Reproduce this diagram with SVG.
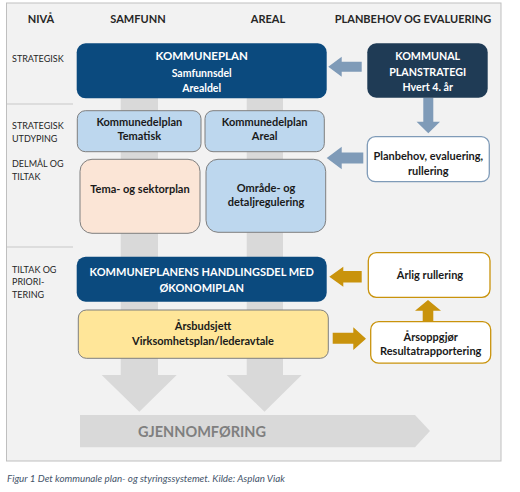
<svg xmlns="http://www.w3.org/2000/svg" width="520" height="492" viewBox="0 0 520 492">
<defs>
<style>
text{font-family:Lato,"Open Sans","Noto Sans",sans-serif;text-anchor:middle;dominant-baseline:central}
.hdr{font-size:11px;font-weight:700;fill:#262626}
.lvl{font-size:9px;fill:#262626;text-anchor:start}
.w{fill:#ffffff;font-weight:700}
.k{fill:#1a1a1a;font-weight:700;font-size:11px}
.dark{fill:#0b4a7e}
.navy{fill:#1f3b55}
.lb{fill:#bdd7ee;stroke:#7f7f7f;stroke-width:1}
.peach{fill:#fbe5d6;stroke:#7f7f7f;stroke-width:1}
.yel{fill:#ffe699;stroke:#7f7f7f;stroke-width:1}
.wb{fill:#ffffff;stroke:#7f9bb8;stroke-width:1.3}
.wg{fill:#ffffff;stroke:#c9930c;stroke-width:1.3}
.ab{fill:#7f9bb8}
.ag{fill:#c9930c}
.gray{fill:#d9d9d9}
.sep{stroke:#c8c8c8;stroke-width:1.2}
</style>
</defs>
<rect x="0" y="0" width="520" height="492" fill="#ffffff"/>
<rect x="6.5" y="3" width="494.5" height="458" fill="#f2f2f2" stroke="#bfbfbf" stroke-width="1"/>

<g id="headers">
<text class="hdr" x="41" y="18">NIVÅ</text>
<text class="hdr" x="138" y="18">SAMFUNN</text>
<text class="hdr" x="268" y="18">AREAL</text>
<text class="hdr" x="413" y="18">PLANBEHOV OG EVALUERING</text>
</g>

<g id="levels">
<line class="sep" x1="7" y1="104" x2="73" y2="104"/>
<line class="sep" x1="7" y1="247" x2="73" y2="247"/>
<text class="lvl" x="12" y="58">STRATEGISK</text>
<text class="lvl" x="12" y="125">STRATEGISK</text>
<text class="lvl" x="12" y="138">UTDYPING</text>
<text class="lvl" x="12" y="163">DELMÅL OG</text>
<text class="lvl" x="12" y="176">TILTAK</text>
<text class="lvl" x="12" y="269">TILTAK OG</text>
<text class="lvl" x="12" y="281.5">PRIORI-</text>
<text class="lvl" x="12" y="294">TERING</text>
</g>

<g id="flow-bars">
<path class="gray" d="M120.7 97 H158 V375 H176.7 L139.3 411.7 L101.7 375 H120.7 Z"/>
<path class="gray" d="M246.7 97 H283 V375 H301.7 L264.5 411.7 L226.7 375 H246.7 Z"/>
</g>

<g id="gjennomforing">
<path class="gray" d="M80 415 H415 L430 431 L415 447.3 H80 Z"/>
<text x="202" y="431" style="font-size:14.5px;font-weight:700;fill:#7f7f7f">GJENNOMFØRING</text>
</g>

<g id="connectors">
<path class="ab" d="M361.7 61.7 V71.7 H341.7 V76.7 L328.3 66.7 L341.7 56.7 V61.7 Z"/>
<path class="ab" d="M423.3 97.7 H433.3 V121.7 H440 L428.3 133.3 L416.6 121.7 H423.3 Z"/>
<path class="ab" d="M363.3 152.5 V163.5 H341.7 V169.3 L326.7 158 L341.7 146.7 V152.5 Z"/>
<path class="ag" d="M361.7 271 V282.4 H343.3 V286.7 L329.3 276.7 L343.3 266.7 V271 Z"/>
<path class="ag" d="M422.7 321.7 V310.7 H415 L428 300 L441 310.7 H433.3 V321.7 Z"/>
<path class="ag" d="M332.7 332.7 H353.3 V327.3 L366 338.7 L353.3 350 V343.7 H332.7 Z"/>
</g>

<g id="kommuneplan">
<rect class="dark" x="76.7" y="43.3" width="250" height="55" rx="9"/>
<text class="w" x="201.7" y="55.5" style="font-size:11.5px">KOMMUNEPLAN</text>
<text class="w" x="201.7" y="73" style="font-size:10.5px">Samfunnsdel</text>
<text class="w" x="201.7" y="88" style="font-size:10.5px">Arealdel</text>
</g>

<g id="planstrategi">
<rect class="navy" x="367.3" y="43.3" width="120.4" height="54.4" rx="9"/>
<text class="w" x="427.7" y="55.5" style="font-size:10.7px">KOMMUNAL</text>
<text class="w" x="427.7" y="71.5" style="font-size:10.7px">PLANSTRATEGI</text>
<text class="w" x="427.7" y="86.5" style="font-size:10.7px">Hvert 4. år</text>
</g>

<g id="kdp-tematisk">
<rect class="lb" x="77.3" y="110.7" width="123.7" height="41" rx="8"/>
<text class="k" x="139.3" y="121">Kommunedelplan</text>
<text class="k" x="139.3" y="135">Tematisk</text>
</g>

<g id="kdp-areal">
<rect class="lb" x="205" y="110.7" width="119.3" height="41" rx="8"/>
<text class="k" x="264.7" y="121">Kommunedelplan</text>
<text class="k" x="264.7" y="135">Areal</text>
</g>

<g id="planbehov">
<rect class="wb" x="367.3" y="136.7" width="122" height="45" rx="8"/>
<text class="k" x="428.3" y="155">Planbehov, evaluering,</text>
<text class="k" x="428.3" y="170">rullering</text>
</g>

<g id="tema-sektorplan">
<rect class="peach" x="80" y="159.3" width="120" height="74" rx="12"/>
<text class="k" x="140" y="188.3">Tema- og sektorplan</text>
</g>

<g id="omrade-detalj">
<rect class="lb" x="206" y="159.3" width="119.7" height="73" rx="12"/>
<text class="k" x="266" y="187.7">Område- og</text>
<text class="k" x="266" y="201.7">detaljregulering</text>
</g>

<g id="handlingsdel">
<rect class="dark" x="76.7" y="256.7" width="250" height="45" rx="9"/>
<text class="w" x="201.7" y="271.7" style="font-size:11px">KOMMUNEPLANENS HANDLINGSDEL MED</text>
<text class="w" x="201.7" y="287.3" style="font-size:11px">ØKONOMIPLAN</text>
</g>

<g id="arsbudsjett">
<rect class="yel" x="78.3" y="310" width="250" height="48.3" rx="8"/>
<text class="k" x="203" y="325">Årsbudsjett</text>
<text class="k" x="203" y="340">Virksomhetsplan/lederavtale</text>
</g>

<g id="arlig-rullering">
<rect class="wg" x="368.3" y="252.7" width="121.7" height="44.6" rx="8"/>
<text class="k" x="430" y="274.3">Årlig rullering</text>
</g>

<g id="arsoppgjor">
<rect class="wg" x="370.7" y="321.7" width="120" height="41.5" rx="8"/>
<text class="k" x="430.7" y="336.7">Årsoppgjør</text>
<text class="k" x="430.7" y="350">Resultatrapportering</text>
</g>

<text x="7" y="478" style="font-size:9.8px;font-style:italic;fill:#44546a;text-anchor:start">Figur 1 Det kommunale plan- og styringssystemet. Kilde: Asplan Viak</text>
</svg>
